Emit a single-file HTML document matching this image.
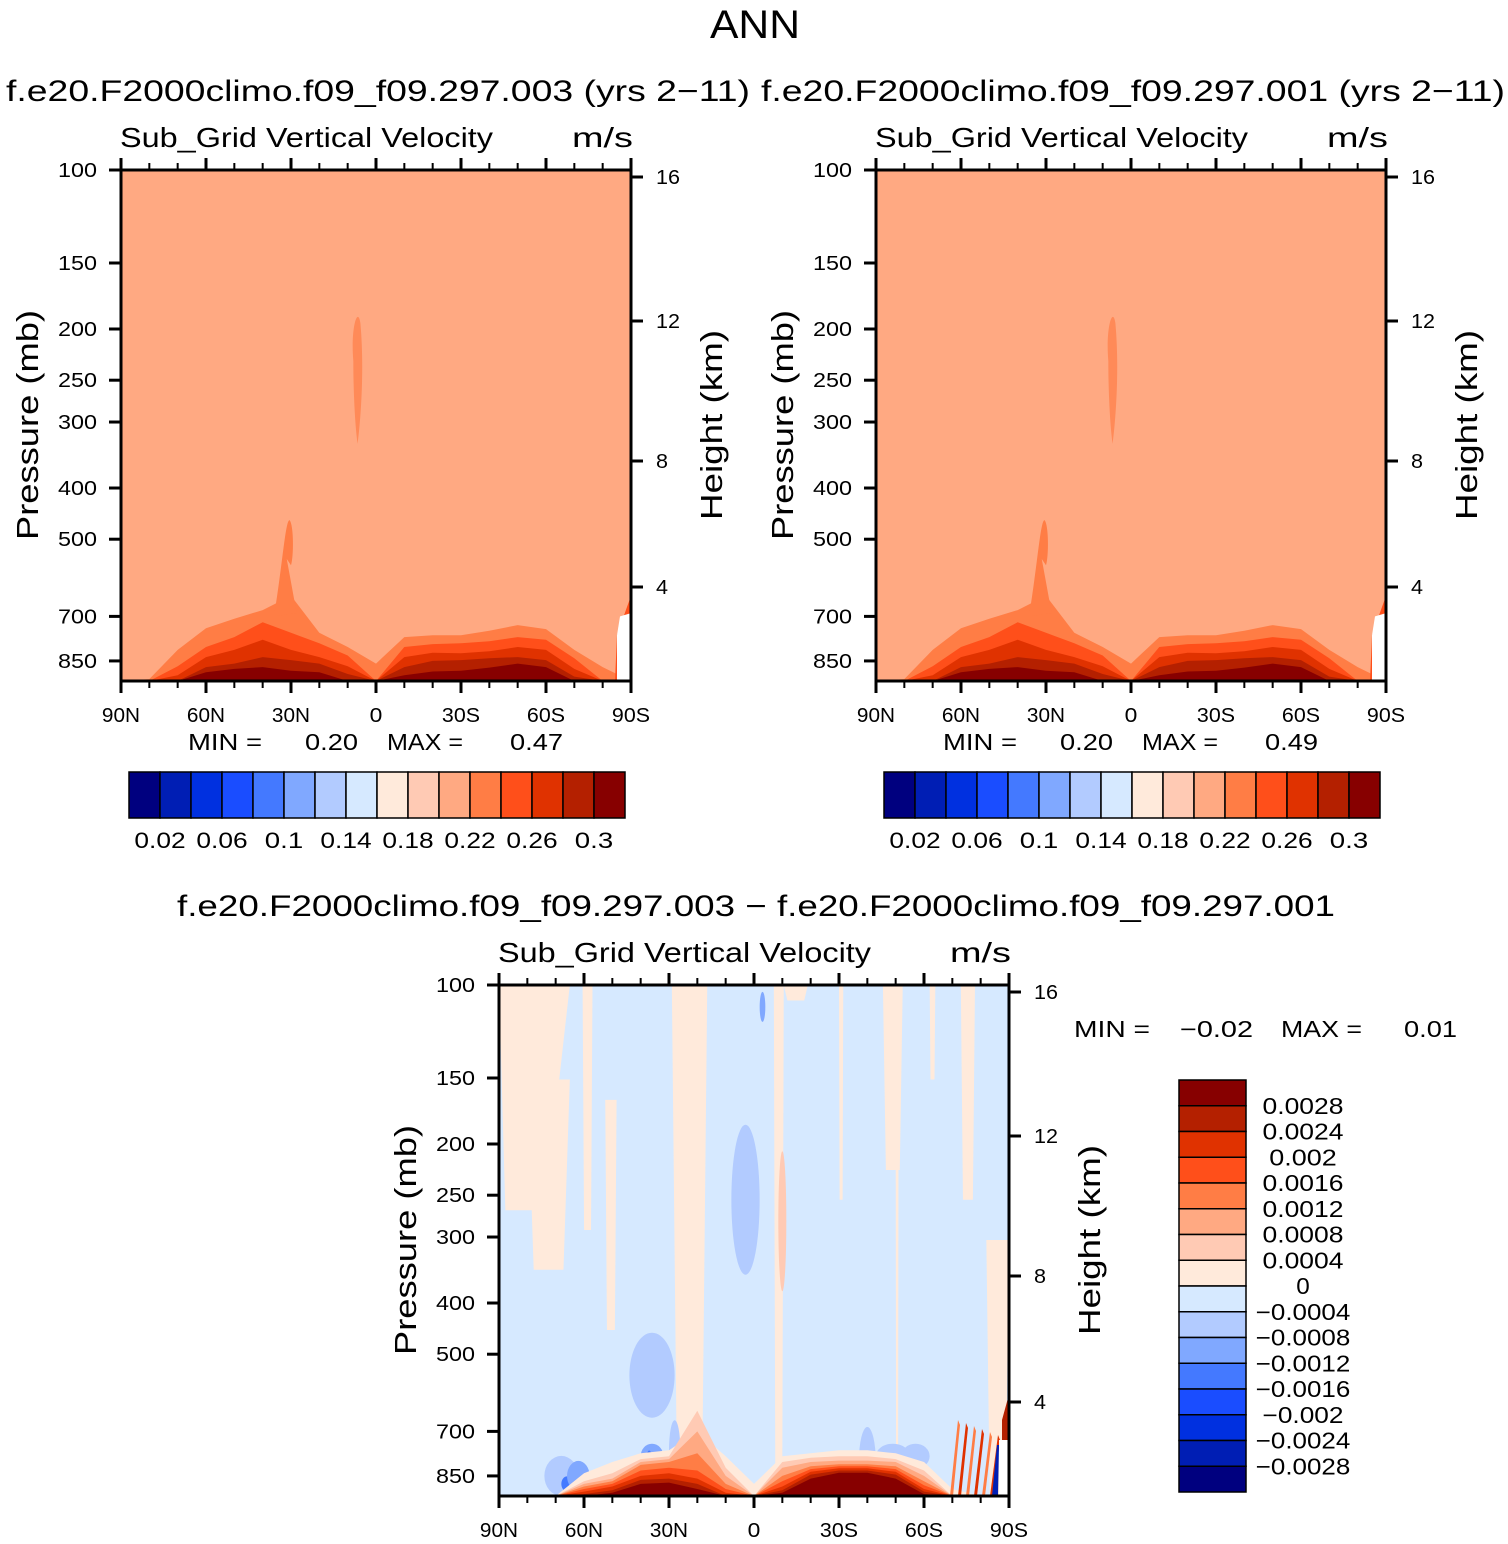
<!DOCTYPE html>
<html><head><meta charset="utf-8"><style>
html,body{margin:0;padding:0;background:#fff;}
svg{display:block;font-family:"Liberation Sans",sans-serif;}
</style></head><body>
<svg id="s" width="1508" height="1544" viewBox="0 0 1508 1544" xmlns="http://www.w3.org/2000/svg"></svg>
<script>
const NS="http://www.w3.org/2000/svg";
const svg=document.getElementById('s');
const palette=["#00007f","#001eb4","#0030e0","#1a4dff","#4479ff","#80a8ff","#b2cbff","#d6e9ff","#ffeadb","#ffcab4","#ffa982","#ff7d45","#ff4f1a","#e03200","#b42000","#870000"];
const lats=[90,80,70,60,50,40,30,20,10,0,-10,-20,-30,-40,-50,-60,-70,-80,-90];
// top panels: pressure (mb) of top of each contour layer (levels 11..15)
const topL11=[928,920,810,737,707,681,640,752,800,860,766,760,760,745,727,740,810,873,928];
const topL12=[928,928,870,800,766,718,752,787,830,928,800,790,787,780,766,775,840,928,928];
const topL13=[928,928,905,836,810,775,810,836,870,928,836,820,822,815,800,810,880,928,928];
const topL14=[928,928,928,873,860,836,847,860,900,928,873,850,847,840,836,847,910,928,928];
const topL15=[928,928,928,893,880,873,887,893,928,928,905,890,887,875,860,873,928,928,928];
// difference panel layers: levels 8..15
const difL8 =[928,928,928,840,800,770,760,700,780,880,780,770,760,760,770,800,900,928,928];
const difL9 =[928,928,928,870,840,790,780,640,820,928,800,785,780,780,790,830,928,928,928];
const difL10=[928,928,928,880,860,800,790,700,850,928,820,800,795,795,800,850,928,928,928];
const difL11=[928,928,928,890,870,810,800,770,880,928,850,815,808,808,815,870,928,928,928];
const difL12=[928,928,928,900,880,830,820,830,900,928,870,825,815,815,825,885,928,928,928];
const difL13=[928,928,928,910,890,850,840,860,915,928,890,835,822,822,835,900,928,928,928];
const difL14=[928,928,928,920,905,865,860,880,928,928,905,845,830,830,845,910,928,928,928];
const difL15=[928,928,928,928,915,880,875,900,928,928,915,860,838,838,860,920,928,928,928];
// positive (beige) bands: lat north, lat south, top p, bottom p
const bandN=[90,90,80,60.5,52.5,29,-7,-10.5,-30,-45.5,-50,-62,-73,-82];
const bandS=[65,75,65,57,48.5,16.5,-10.5,-19,-31.5,-52.5,-51,-64,-78,-90];
const bandTop=[100,100,151,100,165,100,100,100,100,100,180,100,100,304];
const bandBot=[151,267,346,291,450,928,870,107,255,224,928,151,255,928];
// negative blobs: lat, p, half-width deg, half-height px, level
const blobLat=[3,36,36,28,-40,-49,-57,68,66,62,37,-3];
const blobP=[255,548,780,760,800,780,780,850,880,850,830,110];
const blobW=[5,8,4,2,3,6,5,6,2,4,1.5,1];
const blobH=[150,85,25,60,70,25,25,40,15,30,40,30];
const blobLev=[6,6,5,6,6,6,6,6,4,5,4,5];
const cbTop=["0.02","0.06","0.1","0.14","0.18","0.22","0.26","0.3"];
const cbDiff=["0.0028","0.0024","0.002","0.0016","0.0012","0.0008","0.0004","0","\u22120.0004","\u22120.0008","\u22120.0012","\u22120.0016","\u22120.002","\u22120.0024","\u22120.0028"];
const pTicks=[100,150,200,250,300,400,500,700,850];
const hTicks=[16,12,8,4];
const hTickOff=[7,151,291,417];
const latLab=["90N","60N","30N","0","30S","60S","90S"];

function el(tag,attrs,parent){const e=document.createElementNS(NS,tag);for(const k in attrs)e.setAttribute(k,attrs[k]);(parent||svg).appendChild(e);return e;}
function txt(x,y,s,size,anchor,parent,extra,len){const a=Object.assign({x:x,y:y,'font-size':size,'text-anchor':anchor||'start',fill:'#000'},extra||{});if(len){a.textLength=len;a.lengthAdjust='spacingAndGlyphs';}const t=el('text',a,parent);t.textContent=s;return t;}
function cw(s,w){return s.length*w;}

function panel(ox,oy,name){
  const W=510,H=511;
  const g=el('g',{});
  
  
  const X=lat=>ox+(90-lat)/180*W;
  const Y=p=>oy+229.4*Math.log(p/100);
  return {g,X,Y,W,H,ox,oy};
}
function layer(P,arr,color,name){
  const B=P.oy+P.H;
  let d='M'+P.X(90)+','+B;
  for(let i=0;i<lats.length;i++)d+=' L'+P.X(lats[i]).toFixed(1)+','+Math.min(P.Y(arr[i]),B).toFixed(1);
  d+=' L'+P.X(-90)+','+B+'Z';
  const p=el('path',{d:d,fill:color,'stroke-linejoin':'round'},P.g);
  
  
}
function axes(P){
  const g=P.g,ox=P.ox,oy=P.oy,W=P.W,H=P.H;
  el('rect',{x:ox,y:oy,width:W,height:H,fill:'none',stroke:'#000','stroke-width':3},g);
  for(let l=90;l>=-90;l-=10){
    const x=P.X(l),maj=(l%30===0),L=maj?12:7;
    el('line',{x1:x,y1:oy+H,x2:x,y2:oy+H+L,stroke:'#000','stroke-width':maj?3:2},g);
    el('line',{x1:x,y1:oy,x2:x,y2:oy-L,stroke:'#000','stroke-width':maj?3:2},g);
  }
  latLab.forEach((s,i)=>{const t=txt(ox+i*W/6,oy+H+41,s,20,'middle',g,null,cw(s,12.7));});
  pTicks.forEach(p=>{const y=P.Y(p);el('line',{x1:ox-12,y1:y,x2:ox,y2:y,stroke:'#000','stroke-width':3},g);
    const s=String(p);const t=txt(ox-24,y+7,s,20,'end',g,null,cw(s,13));});
  hTicks.forEach((h,i)=>{const y=oy+hTickOff[i];el('line',{x1:ox+W,y1:y,x2:ox+W+12,y2:y,stroke:'#000','stroke-width':3},g);
    const s=String(h);const t=txt(ox+W+25,y+7,s,20,'start',g,null,cw(s,12));});
  let t=txt(0,0,'Pressure (mb)',31,'middle',g,{transform:`translate(${ox-83},${oy+255}) rotate(-90)`},230);
  
  t=txt(0,0,'Height (km)',31,'middle',g,{transform:`translate(${ox+W+91},${oy+255}) rotate(-90)`},190);
  
  t=txt(ox-1,oy-23,'Sub_Grid Vertical Velocity',28,'start',g,null,373);
  
  t=txt(ox+W+2,oy-23,'m/s',28,'end',g,null,61);
  
}
function topPanel(ox,name,maxv,titleX,title){
  const P=panel(ox,170,name);
  el('rect',{x:ox,y:170,width:510,height:511,fill:palette[10]},P.g);
  layer(P,topL11,palette[11],'contour-level-11');
  el('path',{d:`M${P.X(36)},${P.Y(700)} C${P.X(33)},${P.Y(560)} ${P.X(32)},${P.Y(460)} ${P.X(30.5)},${P.Y(460)} C${P.X(29)},${P.Y(470)} ${P.X(29)},${P.Y(540)} ${P.X(30)},${P.Y(560)} L${P.X(31.5)},${P.Y(545)} L${P.X(28)},${P.Y(690)} Z`,fill:palette[11]},P.g);
  el('path',{d:`M${P.X(8)},${P.Y(230)} C${P.X(9)},${P.Y(200)} ${P.X(6.5)},${P.Y(180)} ${P.X(5.5)},${P.Y(195)} C${P.X(4)},${P.Y(240)} ${P.X(5.5)},${P.Y(300)} ${P.X(6.5)},${P.Y(330)} C${P.X(7.5)},${P.Y(300)} ${P.X(8)},${P.Y(260)} ${P.X(8)},${P.Y(230)}Z`,fill:'#ff8a58'},P.g);
  layer(P,topL12,palette[12],'contour-level-12');
  layer(P,topL13,palette[13],'contour-level-13');
  layer(P,topL14,palette[14],'contour-level-14');
  layer(P,topL15,palette[15],'contour-level-15');
  el('path',{d:`M${ox+494},681 L${ox+496},${P.Y(760)} L${ox+505},${P.Y(680)} L${ox+510},${P.Y(640)} L${ox+510},681Z`,fill:palette[12]},P.g);
  el('path',{d:`M${ox+496},681 L${ox+496},${P.Y(760)} L${ox+499},${P.Y(700)} L${ox+510},${P.Y(690)} L${ox+510},681Z`,fill:'#fff'},P.g);
  axes(P);
  let t=txt(ox+67,750,'MIN =',23,'start',P.g,null,74);
  t=txt(ox+237,750,'0.20',23,'end',P.g,null,53);
  t=txt(ox+266,750,'MAX =',23,'start',P.g,null,76);
  t=txt(ox+442,750,maxv,23,'end',P.g,null,53);
  t=txt(titleX,101,title,30,'middle',svg,null,744);
  const cg=el('g',{});
  const cx=ox+8,bw=31;
  palette.forEach((c,i)=>{const r=el('rect',{x:cx+i*bw,y:772,width:bw,height:46,fill:c,stroke:'#000','stroke-width':1.5},cg);});
  cbTop.forEach((s,i)=>{const t=txt(cx+(1+2*i)*bw,848,s,22,'middle',cg,null,cw(s,12.8));});
}
topPanel(121,'left-panel','0.47',378,'f.e20.F2000climo.f09_f09.297.003 (yrs 2\u221211)');
topPanel(876,'right-panel','0.49',1133,'f.e20.F2000climo.f09_f09.297.001 (yrs 2\u221211)');

const D=panel(499,985,'difference-panel');
el('rect',{x:499,y:985,width:509,height:511,fill:palette[7]},D.g);
for(let i=0;i<bandN.length;i++){
  const x1=D.X(bandN[i]),x2=D.X(bandS[i]),y1=D.Y(bandTop[i]),y2=Math.min(D.Y(bandBot[i]),1496);
  const r=el('path',{d:`M${x1},${y1} L${x2},${y1} L${x2-(x2-x1)*0.15},${y2} L${x1+(x2-x1)*0.15},${y2}Z`,fill:palette[8]},D.g);
  
}
el('ellipse',{cx:D.X(-10),cy:D.Y(280),rx:4,ry:70,fill:palette[9]},D.g);
for(let i=0;i<blobLat.length;i++){
  const e=el('ellipse',{cx:D.X(blobLat[i]),cy:D.Y(blobP[i]),rx:blobW[i]*509/180,ry:blobH[i]/2,fill:palette[blobLev[i]]},D.g);
  
}
layer(D,difL8,palette[8],'diff-level-8');
layer(D,difL9,palette[9],'diff-level-9');
layer(D,difL10,palette[10],'diff-level-10');
layer(D,difL11,palette[11],'diff-level-11');
layer(D,difL12,palette[12],'diff-level-12');
layer(D,difL13,palette[13],'diff-level-13');
layer(D,difL14,palette[14],'diff-level-14');
layer(D,difL15,palette[15],'diff-level-15');
for(let k=0;k<6;k++){el('path',{d:`M${950+k*8},1496 L${958+k*8},${1420+k*3} L${960+k*8},${1425+k*3} L${953+k*8},1496Z`,fill:k%2?palette[13]:palette[11]},D.g);}
el('path',{d:`M1002,1420 L1008,1398 L1008,1440 L1002,1440Z`,fill:palette[14]},D.g);
el('path',{d:`M992,1496 L997,1445 L999,1445 L998,1496Z`,fill:palette[1]},D.g);
el('rect',{x:999,y:1440,width:9,height:56,fill:'#fff'},D.g);
axes(D);
let tt=txt(756,916,'f.e20.F2000climo.f09_f09.297.003 \u2212 f.e20.F2000climo.f09_f09.297.001',30,'middle',svg,null,1158);

tt=txt(1074,1037,'MIN =',23,'start',svg,null,76);
tt=txt(1253,1037,'\u22120.02',23,'end',svg,null,73);
tt=txt(1281,1037,'MAX =',23,'start',svg,null,81);
tt=txt(1457,1037,'0.01',23,'end',svg,null,53);
const vcb=el('g',{});
const bh=412/16;
palette.slice().reverse().forEach((c,i)=>{const r=el('rect',{x:1179,y:1080+i*bh,width:67,height:bh,fill:c,stroke:'#000','stroke-width':1.5},vcb);});
cbDiff.forEach((s,i)=>{const t=txt(1303,1080+(i+1)*bh+8,s,23,'middle',vcb,null,cw(s,13.5));});
tt=txt(755,38,'ANN',40,'middle',svg,null,90);
</script>
</body></html>
